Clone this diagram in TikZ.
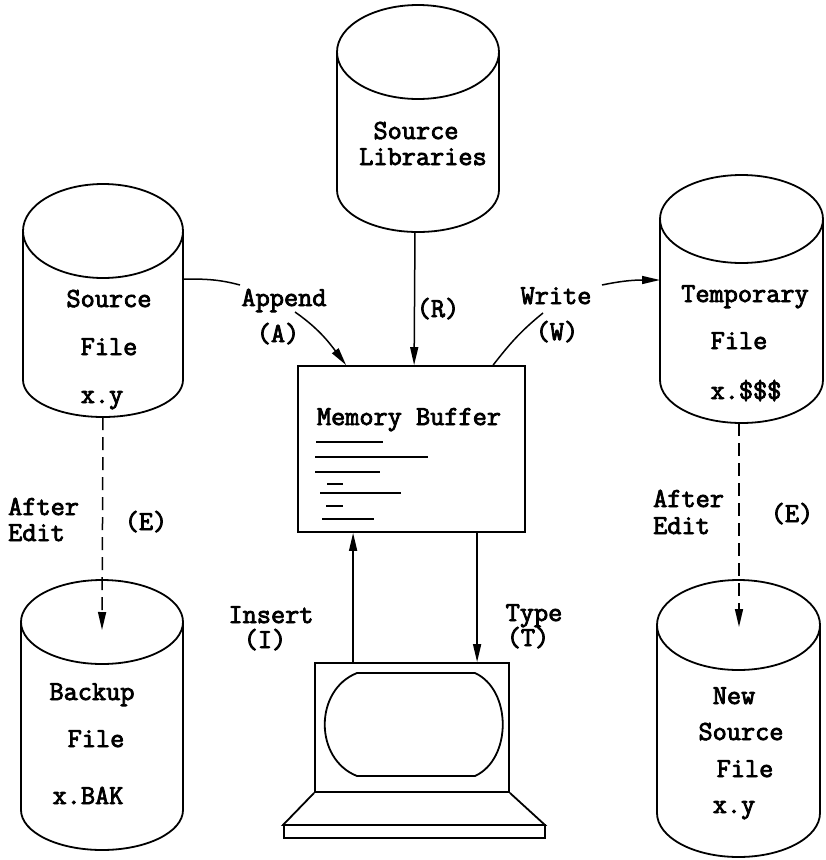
\documentclass[tikz,border=0pt]{standalone}
\usepackage{fontspec}
\newfontfamily\courfont{Latin Modern Mono}[FakeBold=3]
\usetikzlibrary{arrows.meta}
% cx, rx, top centre y, top ry, bottom centre y, bottom ry (y in pixels, downwards)
\newcommand{\drawcyl}[6]{%
  \draw[shapeline] (#1,-#3) ellipse[x radius=#2, y radius=#4];
  \draw[shapeline] (#1-#2,-#3) -- (#1-#2,-#5) arc[start angle=180,end angle=360,x radius=#2,y radius=#6] -- (#1+#2,-#3);
}
\begin{document}
\begin{tikzpicture}[x=1pt,y=1pt,
  shapeline/.style={line width=1.8pt},
  conn/.style={line width=1.5pt},
  tip/.style={-{Triangle[length=18pt,width=8pt]}},
  dashline/.style={conn, dash pattern=on 13pt off 7pt},
  txt/.style={font=\courfont\fontsize{27.5}{30}\selectfont, inner sep=0pt, anchor=base},
  txtw/.style={txt, anchor=base west},
  bufline/.style={line width=1.9pt}
]
\useasboundingbox (0,0) rectangle (826,-860);

% cylinders
\drawcyl{418}{81}{52}{47}{190}{42}
\drawcyl{103}{80}{231}{47}{380}{37}
\drawcyl{741.5}{81.5}{219}{44}{380}{43}
\drawcyl{102}{81}{622}{42}{810}{40}
\drawcyl{738.5}{81.5}{625}{45}{813}{44}

% cylinder texts
\node[txt] (slA) at (416,-139) {Source};
\node[txt] (slB) at (423,-165) {Libraries};
\node[txt] (sfA) at (109,-307) {Source};
\node[txt] (sfB) at (109,-355) {File};
\node[txt] (sfC) at (102,-403) {x.y};
\node[txt] (tfA) at (745,-302) {Temporary};
\node[txt] (tfB) at (739,-349) {File};
\node[txt] (tfC) at (746,-399) {x.\$\$\$};
\node[txt] (bfA) at (92,-700) {Backup};
\node[txt] (bfB) at (96,-747) {File};
\node[txt] (bfC) at (88,-804) {x.BAK};
\node[txt] (nfA) at (734,-704) {New};
\node[txt] (nfB) at (741,-740) {Source};
\node[txt] (nfC) at (745,-777) {File};
\node[txt] (nfD) at (734,-813) {x.y};

% memory buffer
\node[draw, shapeline, minimum width=227pt, minimum height=166pt, inner sep=0pt] (buf) at (411.5,-449) {};
\node[txt] (mbt) at (409,-425) {Memory Buffer};
\draw[bufline] (316,-442) -- (383,-442);
\draw[bufline] (315,-457) -- (428,-457);
\draw[bufline] (315,-472) -- (380,-472);
\draw[bufline] (327,-484) -- (343,-484);
\draw[bufline] (320,-493) -- (401,-493);
\draw[bufline] (326,-506) -- (343,-506);
\draw[bufline] (322,-519) -- (374,-519);

% terminal
\node[draw, shapeline, minimum width=194pt, minimum height=129pt, inner sep=0pt] (term) at (412,-727.5) {};
\draw[shapeline] (357,-673) -- (475,-673) .. controls (512,-690) and (512,-759) .. (475,-776) -- (357,-776) .. controls (314,-759) and (314,-690) .. (357,-673) -- cycle;
\draw[shapeline] (term.south west) -- (283,-825) -- (545,-825) -- (term.south east);
\draw[shapeline] (284,-825) rectangle (545,-838);

% labels
\node[txt] (lapp) at (284,-306) {Append};
\node[txt] (la) at (278,-342) {(A)};
\node[txt] (lr) at (438,-317) {(R)};
\node[txt] (lwr) at (556,-304) {Write};
\node[txt] (lw) at (557,-340) {(W)};
\node[txt] (lins) at (271,-623) {Insert};
\node[txt] (li) at (265,-648) {(I)};
\node[txt] (ltyp) at (534,-621) {Type};
\node[txt] (lt) at (528,-646) {(T)};
\node[txtw] (laf1) at (8,-515) {After};
\node[txtw] (led1) at (8,-541) {Edit};
\node[txt] (le1) at (146,-530) {(E)};
\node[txtw] (laf2) at (653,-507) {After};
\node[txtw] (led2) at (653,-534) {Edit};
\node[txt] (le2) at (792,-522) {(E)};

% connector end points
\coordinate (sfside) at (183,-279);
\coordinate (ap1) at (240,-285);
\coordinate (ap2) at (295,-312);
\coordinate (slbot) at (415,-232);
\coordinate (wr1) at (543,-313);
\coordinate (wr2) at (602,-285);
\coordinate (tfside) at (660,-280);
\coordinate (sfbot) at (103,-417);
\coordinate (bktop) at (102,-630);
\coordinate (tfbot) at (739,-423);
\coordinate (nftop) at (739,-627);

% connectors
\draw[conn] (sfside) to[out=0,in=165] (ap1);
\draw[conn,tip] (ap2) to[out=-35,in=127] ([xshift=49pt]buf.north west);
\draw[conn,tip] (slbot) -- ([xshift=117pt]buf.north west);
\draw[conn] ([xshift=196pt]buf.north west) to[out=52,in=-141] (wr1);
\draw[conn,tip] (wr2) to[out=12,in=180] (tfside);
\draw[dashline,tip] (sfbot) -- (bktop);
\draw[dashline,tip] (tfbot) -- (nftop);
\draw[conn,tip] ([xshift=39pt]term.north west) -- ([xshift=56pt]buf.south west);
\draw[conn,tip] ([xshift=180pt]buf.south west) -- ([xshift=163pt]term.north west);
\end{tikzpicture}
\end{document}
